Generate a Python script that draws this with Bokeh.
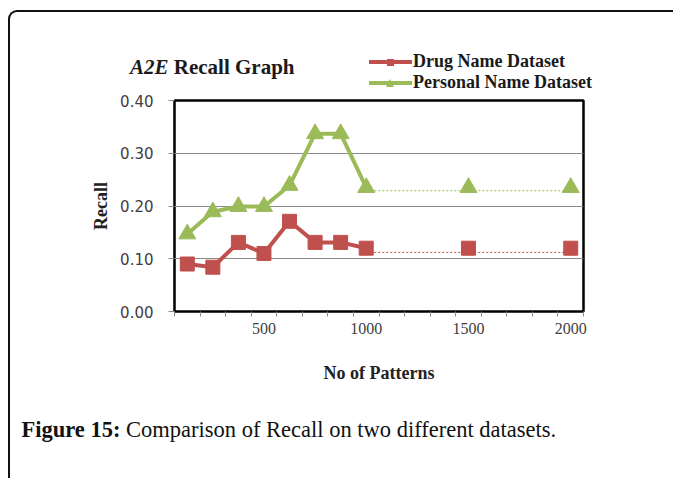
from bokeh.plotting import figure
from bokeh.layouts import column
from bokeh.models import FixedTicker, NumeralTickFormatter, Range1d, Div
from bokeh.embed import file_html
from bokeh.resources import INLINE

# ---- data ----
patterns = [125, 250, 375, 500, 625, 750, 875, 1000]
drug_recall = [0.090, 0.084, 0.131, 0.110, 0.171, 0.131, 0.131, 0.120]
personal_recall = [0.147, 0.189, 0.199, 0.199, 0.239, 0.337, 0.337, 0.235]
extra_patterns = [1500, 2000]
drug_extra = [0.120, 0.120]
personal_extra = [0.235, 0.235]
trend_patterns = [1000, 2000]
drug_trend = [0.112, 0.112]
personal_trend = [0.229, 0.229]
x_tick_labels = [500, 1000, 1500, 2000]
y_ticks = [0.0, 0.1, 0.2, 0.3, 0.4]
series_names = ["Drug Name Dataset", "Personal Name Dataset"]
chart_title_italic = "A2E"
chart_title_rest = "Recall Graph"
caption_bold = "Figure 15:"
caption_text = "Comparison of Recall on two different datasets."

RED = "#C0504D"
GREEN = "#9BBB59"
SERIF = "Liberation Serif"
W = 663

# ---------------- chart ----------------
p = figure(width=W, height=298, output_backend="svg", toolbar_location=None,
           x_range=Range1d(62.5, 2062.5), y_range=Range1d(0, 0.4),
           min_border_left=164, min_border_right=90,
           min_border_top=8, min_border_bottom=79, margin=0)
p.background_fill_color = "white"
p.border_fill_color = "white"
p.outline_line_color = "black"
p.outline_line_width = 2.5

p.xgrid.visible = False
p.ygrid.ticker = FixedTicker(ticks=y_ticks)
p.ygrid.grid_line_color = "#8a8a8a"
p.ygrid.grid_line_width = 1

boundaries = [62.5 + 125 * i for i in range(17)]
p.xaxis.ticker = FixedTicker(ticks=x_tick_labels, minor_ticks=boundaries)
p.xaxis.axis_line_color = None
p.xaxis.major_tick_line_color = None
p.xaxis.minor_tick_line_color = "#8a8a8a"
p.xaxis.minor_tick_out = 5
p.xaxis.minor_tick_in = 0
p.xaxis.major_label_text_font = SERIF
p.xaxis.major_label_text_font_size = "16px"
p.xaxis.major_label_text_color = "#404040"
p.xaxis.major_label_standoff = 5
p.xaxis.axis_label = "No of Patterns"
p.xaxis.axis_label_text_font = SERIF
p.xaxis.axis_label_text_font_style = "bold"
p.xaxis.axis_label_text_font_size = "18px"
p.xaxis.axis_label_text_color = "#222222"
p.xaxis.axis_label_standoff = 26

p.yaxis.ticker = FixedTicker(ticks=y_ticks)
p.yaxis.formatter = NumeralTickFormatter(format="0.00")
p.yaxis.axis_line_color = None
p.yaxis.major_tick_line_color = "#8a8a8a"
p.yaxis.major_tick_out = 6
p.yaxis.major_tick_in = 0
p.yaxis.minor_tick_line_color = None
p.yaxis.major_label_text_font = "DejaVu Sans"
p.yaxis.major_label_text_font_size = "15px"
p.yaxis.major_label_text_color = "#404040"
p.yaxis.major_label_standoff = 15
p.yaxis.axis_label = "Recall"
p.yaxis.axis_label_text_font = SERIF
p.yaxis.axis_label_text_font_style = "bold"
p.yaxis.axis_label_text_font_size = "18px"
p.yaxis.axis_label_text_color = "#222222"
p.yaxis.axis_label_standoff = 6

p.line(trend_patterns, drug_trend, line_color=RED, line_width=1, line_dash="2 2")
p.line(trend_patterns, personal_trend, line_color=GREEN, line_width=1, line_dash="2 2")
p.line(patterns, drug_recall, line_color=RED, line_width=4, line_join="round")
p.line(patterns, personal_recall, line_color=GREEN, line_width=4, line_join="round")
p.scatter(patterns + extra_patterns, drug_recall + drug_extra, marker="square",
          size=14, fill_color=RED, line_color=RED)
p.scatter(patterns + extra_patterns, personal_recall + personal_extra, marker="triangle",
          size=17, fill_color=GREEN, line_color=GREEN)

# ---------------- title + legend (above the chart) ----------------
def abs_div(left, top, extra):
    return f'<div style="position:absolute;left:{left}px;top:{top}px;{extra}"></div>'

def abs_text(left, top, size, lh, html):
    return (f'<div style="position:absolute;left:{left}px;top:{top}px;font-size:{size}px;'
            f'line-height:{lh}px;font-weight:bold;white-space:nowrap;">{html}</div>')

rows = [(50.0, RED, "square"), (71.0, GREEN, "triangle")]
legend_html = ""
for (cy, col, mk), name in zip(rows, series_names):
    legend_html += abs_div(359, cy - 2, f"width:43px;height:4px;background:{col};")
    if mk == "square":
        legend_html += abs_div(376.5, cy - 3.5, f"width:7px;height:7px;background:{col};")
    else:
        legend_html += abs_div(375.5, cy - 4.5,
                               f"width:0;height:0;border-left:4.5px solid transparent;"
                               f"border-right:4.5px solid transparent;border-bottom:8px solid {col};")
    legend_html += abs_text(403, cy - 10.6, 18, 20, name)

top_html = (f'<div style="position:relative;width:{W}px;height:80px;'
            f"font-family:'{SERIF}';color:#1a1a1a;\">"
            + abs_text(120, 42.5, 21, 24, f"<i>{chart_title_italic}</i> {chart_title_rest}")
            + legend_html + "</div>")
top_div = Div(text=top_html, width=W, height=80, margin=0)

# ---------------- caption ----------------
cap_html = (f'<div style="position:relative;width:{W}px;height:88px;'
            f"font-family:'{SERIF}';color:#111111;\">"
            f'<div style="position:absolute;left:11.5px;top:27.2px;font-size:22.5px;'
            f'line-height:26px;white-space:nowrap;"><b>{caption_bold}</b> {caption_text}</div>'
            "</div>")
cap_div = Div(text=cap_html, width=W, height=88, margin=0)

layout = column(top_div, p, cap_div, spacing=0, margin=(10, 0, 0, 8),
                styles={"border-top": "2px solid #111111",
                        "border-left": "2px solid #111111",
                        "border-top-left-radius": "9px"})

open("out.html", "w").write(file_html(layout, INLINE))
